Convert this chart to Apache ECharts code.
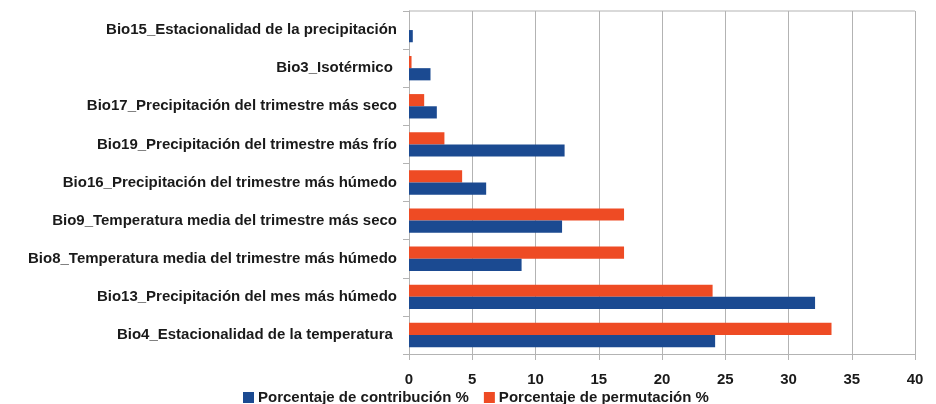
<!DOCTYPE html>
<html><head><meta charset="utf-8">
<script src="https://cdn.jsdelivr.net/npm/echarts@6/dist/echarts.min.js"></script>
<style>html,body{margin:0;padding:0;background:#fff}#c{width:936px;height:404px}</style>
</head><body><div id="c"></div>
<script>
const categories = [
  "Bio15_Estacionalidad de la precipitación",
  "Bio3_Isotérmico ",
  "Bio17_Precipitación del trimestre más seco",
  "Bio19_Precipitación del trimestre más frío",
  "Bio16_Precipitación del trimestre más húmedo",
  "Bio9_Temperatura media del trimestre más seco",
  "Bio8_Temperatura media del trimestre más húmedo",
  "Bio13_Precipitación del mes más húmedo",
  "Bio4_Estacionalidad de la temperatura "
];
const contribucion = [0.3, 1.7, 2.2, 12.3, 6.1, 12.1, 8.9, 32.1, 24.2];
const permutacion = [0, 0.2, 1.2, 2.8, 4.2, 17.0, 17.0, 24.0, 33.4];
const xTicks = [0, 5, 10, 15, 20, 25, 30, 35, 40];

const chart = echarts.init(document.getElementById('c'));
chart.setOption({
  animation: false,
  textStyle: {fontFamily: 'Liberation Sans'},
  legend: {
    top: 390, left: 243, itemWidth: 11, itemHeight: 11, itemGap: 15, icon: 'rect',
    padding: 0,
    textStyle: {fontSize: 15, color: '#1a1a1a', fontWeight: 'bold', fontFamily: 'Liberation Sans', padding: [0, 0, 0, -1]},
    data: ['Porcentaje de contribución %', 'Porcentaje de permutación %']
  },
  grid: {left: 409, right: 21, top: 11, bottom: 50, containLabel: false, show: false},
  xAxis: {
    type: 'value', min: xTicks[0], max: xTicks[xTicks.length-1], interval: 5,
    axisLine: {show: true, lineStyle: {color: '#b3b3b3'}},
    axisTick: {show: true, length: 6, lineStyle: {color: '#b3b3b3'}},
    axisLabel: {fontSize: 15, color: '#1a1a1a', fontWeight: 'bold', margin: 18},
    splitLine: {show: true, lineStyle: {color: '#b3b3b3'}}
  },
  yAxis: {
    type: 'category', data: categories, inverse: true,
    axisLine: {show: true, lineStyle: {color: '#b3b3b3'}},
    axisTick: {show: true, length: 6, lineStyle: {color: '#b3b3b3'}},
    axisLabel: {fontSize: 15, color: '#1a1a1a', fontWeight: 'bold', margin: 12}
  },
  series: [
    {name: 'Porcentaje de permutación %', type: 'bar', data: permutacion,
     itemStyle: {color: '#ee4b24'}, barGap: '0%', barCategoryGap: '36%'},
    {name: 'Porcentaje de contribución %', type: 'bar', data: contribucion,
     itemStyle: {color: '#1b4a91'}, barGap: '0%', barCategoryGap: '36%'}
  ],
  graphic: [{type: 'line', shape: {x1: 409, y1: 11, x2: 915, y2: 11}, style: {stroke: '#b3b3b3'}}]
});
</script></body></html>
